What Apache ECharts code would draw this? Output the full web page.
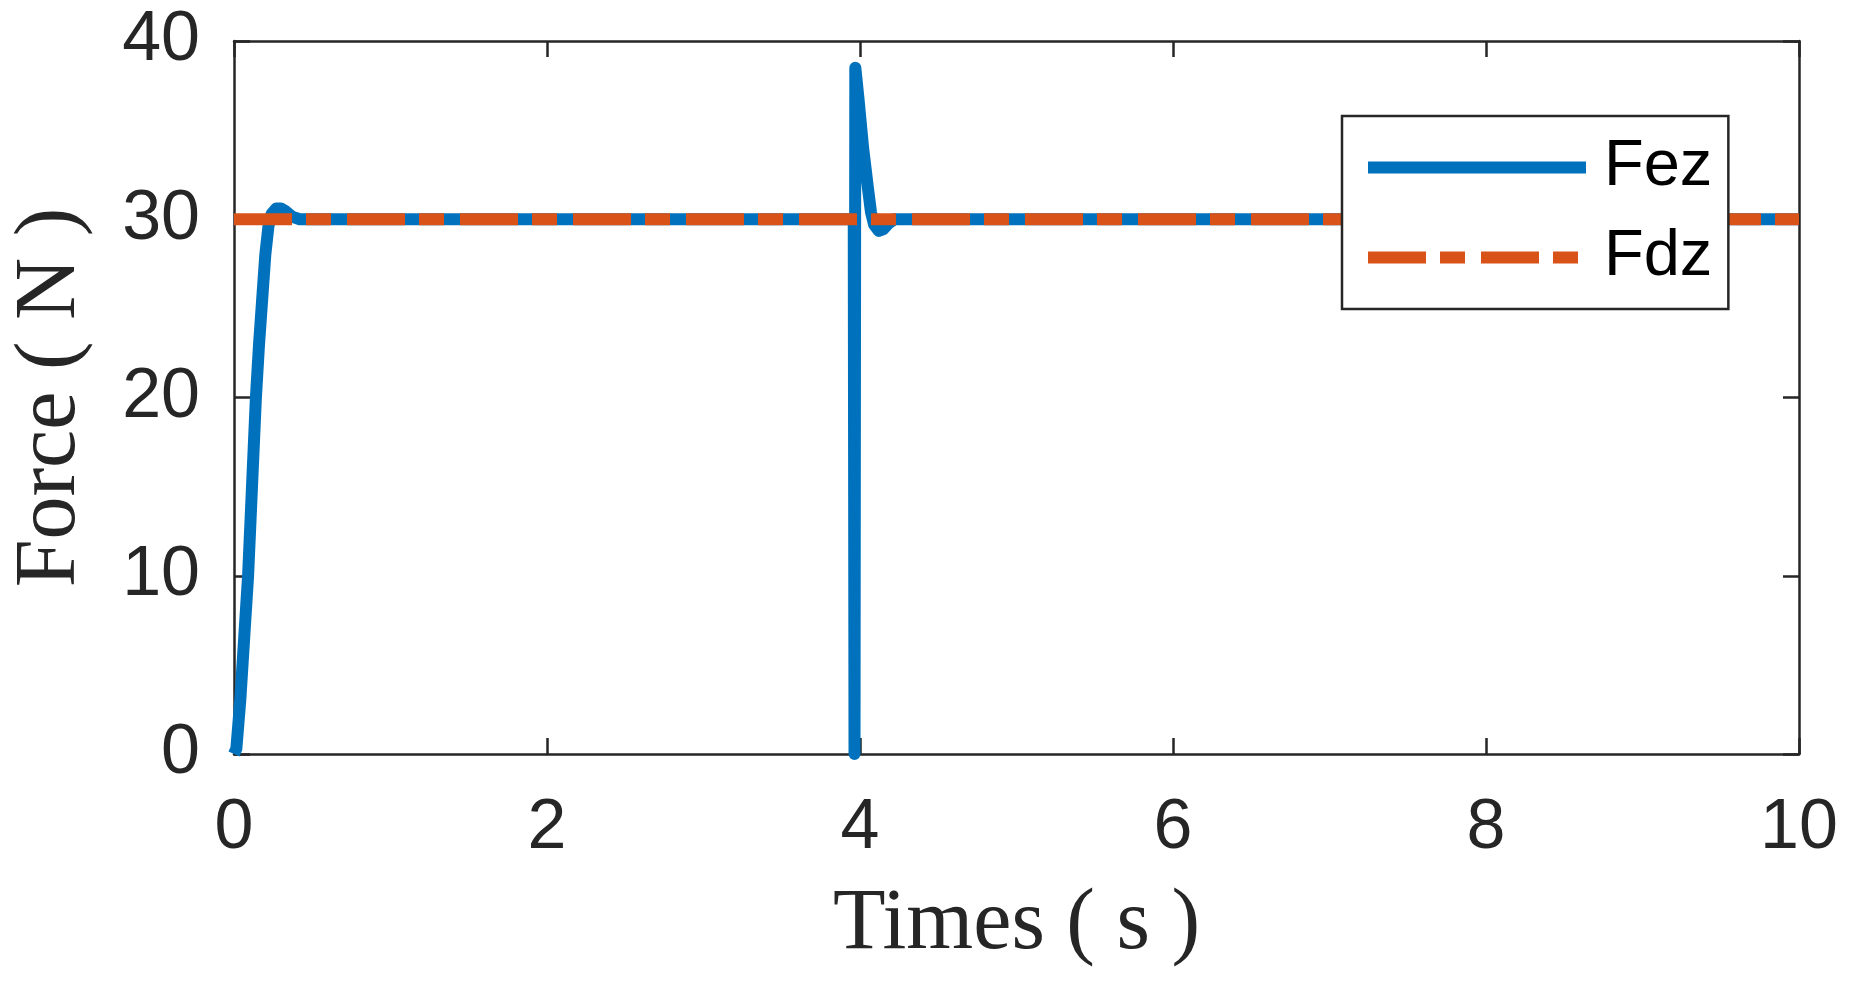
<!DOCTYPE html>
<html>
<head>
<meta charset="utf-8">
<script src="https://cdn.jsdelivr.net/npm/echarts@6/dist/echarts.min.js"></script>
<style>
html,body{margin:0;padding:0;background:#fff;}
#chart{width:1855px;height:990px;}
</style>
</head>
<body>
<div id="chart"></div>
<script>
// ---- data ----
const fezTime = [0, 0.015, 0.04, 0.065, 0.09, 0.115, 0.14, 0.16, 0.18, 0.2, 0.22, 0.24, 0.27, 0.3, 0.33, 0.37, 0.42, 0.6,
  3.96, 3.965, 3.97, 3.99, 4.02, 4.05, 4.07, 4.09, 4.12, 4.15, 4.18, 4.22, 10];
const fezValue = [0, 0.3, 3, 6.5, 10, 15, 20, 23, 25.5, 28, 29.6, 30.3, 30.6, 30.6, 30.45, 30.15, 30.0, 30,
  30, 0, 38.5, 36.8, 34.0, 31.8, 30.4, 29.7, 29.35, 29.45, 29.75, 30, 30];
const fdzTime = [0, 10];
const fdzValue = [30, 30];
const seriesNames = ['Fez', 'Fdz'];
const xTicks = [0, 2, 4, 6, 8, 10];
const yTicks = [0, 10, 20, 30, 40];

const zip = (a, b) => a.map((t, i) => [t, b[i]]);

const axisColor = '#262626';
const tickFont = 'Liberation Sans, Arial, sans-serif';
const titleFont = 'Liberation Serif, Times New Roman, serif';
const fezColor = '#0072BD';
const fdzColor = '#D95319';
const fdzDash = [58, 14, 25, 16];

const chart = echarts.init(document.getElementById('chart'));
const baseAxis = {
  axisLine: { show: true, onZero: false, lineStyle: { color: axisColor, width: 2.5 } },
  axisTick: { show: true, inside: true, length: 16, lineStyle: { color: axisColor, width: 2.5 } },
  splitLine: { show: false }
};
chart.setOption({
  animation: false,
  backgroundColor: '#fff',
  grid: { left: 230, right: 56, top: 41, bottom: 236, containLabel: false },
  xAxis: [
    Object.assign({}, baseAxis, {
      type: 'value', min: xTicks[0], max: xTicks[xTicks.length - 1], interval: 2, position: 'bottom',
      axisLabel: { show: true, margin: 40, fontSize: 70, fontFamily: tickFont, color: axisColor },
      name: 'Times ( s )', nameLocation: 'middle', nameGap: 128,
      nameTextStyle: { fontSize: 86, fontFamily: titleFont, color: axisColor }
    }),
    Object.assign({}, baseAxis, {
      type: 'value', min: xTicks[0], max: xTicks[xTicks.length - 1], interval: 2, position: 'top',
      axisLabel: { show: false }
    })
  ],
  yAxis: [
    Object.assign({}, baseAxis, {
      type: 'value', min: yTicks[0], max: yTicks[yTicks.length - 1], interval: 10, position: 'left',
      axisLabel: { show: true, margin: 34, fontSize: 70, fontFamily: tickFont, color: axisColor },
      name: 'Force ( N )', nameLocation: 'middle', nameGap: 140, nameRotate: 90,
      nameTextStyle: { fontSize: 86, fontFamily: titleFont, color: axisColor }
    }),
    Object.assign({}, baseAxis, {
      type: 'value', min: yTicks[0], max: yTicks[yTicks.length - 1], interval: 10, position: 'right',
      axisLabel: { show: false }
    })
  ],
  legend: {
    left: 1342, top: 116,
    orient: 'vertical',
    backgroundColor: '#fff',
    borderColor: axisColor, borderWidth: 2.5, borderRadius: 0,
    padding: [19, 16, 19, 20],
    itemGap: 25,
    itemWidth: 218, itemHeight: 14,
    itemStyle: { opacity: 0 },
    lineStyle: { width: 12, cap: 'butt' },
    textStyle: { fontSize: 65, fontFamily: tickFont, color: '#000', lineHeight: 65, padding: [0, 0, 0, 13] },
    data: [
      { name: seriesNames[0], itemStyle: { opacity: 0 }, lineStyle: { color: fezColor, width: 12, type: 'solid' } },
      { name: seriesNames[1], itemStyle: { opacity: 0 }, lineStyle: { color: fdzColor, width: 12, type: fdzDash } }
    ]
  },
  series: [
    {
      name: seriesNames[0], type: 'line', data: zip(fezTime, fezValue),
      showSymbol: false, symbol: 'none', clip: false,
      lineStyle: { color: fezColor, width: 12, join: 'round', cap: 'butt' },
      itemStyle: { color: fezColor }, z: 2
    },
    {
      name: seriesNames[1], type: 'line', data: zip(fdzTime, fdzValue),
      showSymbol: false, symbol: 'none', clip: false,
      lineStyle: { color: fdzColor, width: 12, type: fdzDash, cap: 'butt' },
      itemStyle: { color: fdzColor }, z: 3
    }
  ]
});
</script>
</body>
</html>
